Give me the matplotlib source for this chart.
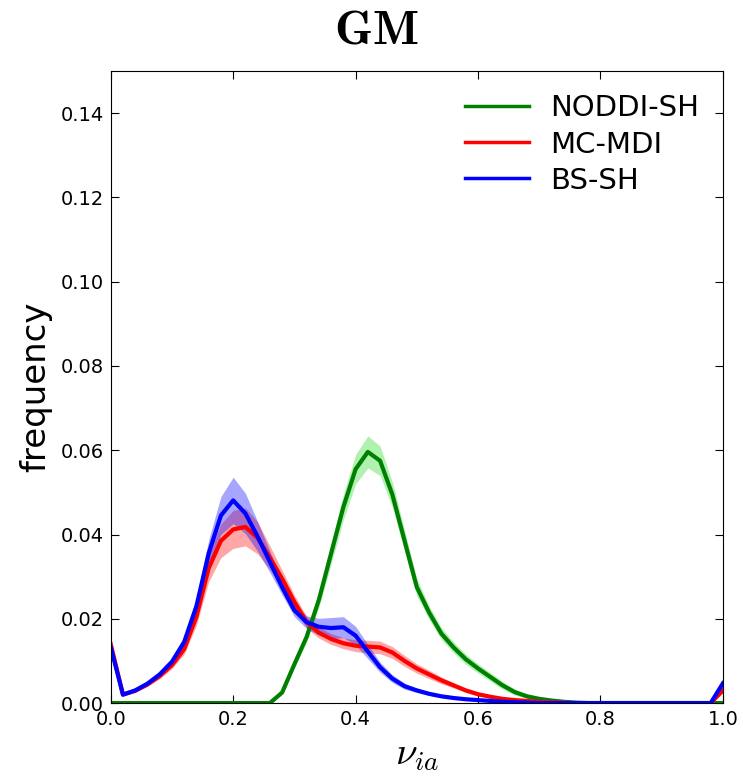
import numpy as np
import matplotlib
matplotlib.use('Agg')
import matplotlib.pyplot as plt

plt.rcParams['font.family'] = 'DejaVu Sans'
plt.rcParams['mathtext.fontset'] = 'cm'

# bin centres of the histogram
nu = np.round(np.arange(0, 1.0001, 0.02), 2)

# NODDI-SH (mean, std)
noddi_mean = [0, 0, 0, 0, 0, 0, 0, 0, 0, 0,
              0, 0, 0, 0, 0.0025, 0.0092, 0.0157, 0.0245, 0.0355, 0.0465,
              0.0555, 0.0596, 0.0575, 0.0495, 0.0385, 0.0275, 0.0215, 0.0165, 0.0132, 0.0104,
              0.0082, 0.0062, 0.0042, 0.0026, 0.0016, 0.0010, 0.0006, 0.0003, 0.0001, 0,
              0, 0, 0, 0, 0, 0, 0, 0, 0, 0, 0]
noddi_std = [0, 0, 0, 0, 0, 0, 0, 0, 0, 0,
             0, 0, 0, 0, 0.0003, 0.0008, 0.0012, 0.0018, 0.0025, 0.0030,
             0.0035, 0.0038, 0.0035, 0.0030, 0.0025, 0.0020, 0.0016, 0.0014, 0.0013, 0.0012,
             0.0011, 0.0010, 0.0009, 0.0007, 0.0005, 0.0004, 0.0003, 0.0002, 0.0001, 0,
             0, 0, 0, 0, 0, 0, 0, 0, 0, 0, 0]

# MC-MDI (mean, std)
mcmdi_mean = [0.0140, 0.0020, 0.0029, 0.0044, 0.0064, 0.0090, 0.0128, 0.0205, 0.0320, 0.0385,
              0.0412, 0.0418, 0.0392, 0.0345, 0.0295, 0.0240, 0.0192, 0.0167, 0.0152, 0.0142,
              0.0136, 0.0134, 0.0132, 0.0120, 0.0100, 0.0082, 0.0068, 0.0054, 0.0042, 0.0030,
              0.0021, 0.0015, 0.0010, 0.0007, 0.0005, 0.0003, 0.0002, 0.0001, 0, 0,
              0, 0, 0, 0, 0, 0, 0, 0, 0, 0, 0.0030]
mcmdi_std = [0.0015, 0.0002, 0.0003, 0.0004, 0.0006, 0.0008, 0.0012, 0.0020, 0.0032, 0.0040,
             0.0045, 0.0045, 0.0038, 0.0028, 0.0020, 0.0016, 0.0014, 0.0013, 0.0013, 0.0013,
             0.0014, 0.0015, 0.0015, 0.0014, 0.0013, 0.0011, 0.0010, 0.0008, 0.0006, 0.0005,
             0.0004, 0.0003, 0.0002, 0.0001, 0.0001, 0, 0, 0, 0, 0,
             0, 0, 0, 0, 0, 0, 0, 0, 0, 0, 0.0005]

# BS-SH (mean, std)
bssh_mean = [0.0133, 0.0020, 0.0030, 0.0046, 0.0068, 0.0098, 0.0145, 0.0230, 0.0355, 0.0445,
             0.0481, 0.0450, 0.0395, 0.0335, 0.0275, 0.0220, 0.0192, 0.0181, 0.0178, 0.0180,
             0.0160, 0.0122, 0.0085, 0.0058, 0.0040, 0.0030, 0.0022, 0.0016, 0.0012, 0.0009,
             0.0007, 0.0005, 0.0003, 0.0002, 0.0001, 0, 0, 0, 0, 0,
             0, 0, 0, 0, 0, 0, 0, 0, 0, 0, 0.0047]
bssh_std = [0.0003, 0.0002, 0.0003, 0.0004, 0.0006, 0.0008, 0.0012, 0.0020, 0.0032, 0.0045,
            0.0055, 0.0048, 0.0035, 0.0025, 0.0018, 0.0015, 0.0015, 0.0020, 0.0025, 0.0025,
            0.0022, 0.0017, 0.0012, 0.0009, 0.0007, 0.0005, 0.0004, 0.0003, 0.0002, 0.0002,
            0.0001, 0.0001, 0, 0, 0, 0, 0, 0, 0, 0,
            0, 0, 0, 0, 0, 0, 0, 0, 0, 0, 0.0003]

series = [
    ('NODDI-SH', noddi_mean, noddi_std, (0, 0.5, 0), (0.1, 0.85, 0.1)),
    ('MC-MDI', mcmdi_mean, mcmdi_std, 'r', 'r'),
    ('BS-SH', bssh_mean, bssh_std, 'b', 'b'),
]

fig = plt.figure(figsize=(7.43, 7.76), dpi=100)
ax = fig.add_axes([0.149, 0.094, 0.824, 0.8145])

for name, m, s, lc, fc in series:
    m = np.array(m)
    s = np.array(s)
    ax.fill_between(nu, m - s, m + s, color=fc, alpha=0.35, linewidth=0)
    ax.plot(nu, m, color=lc, lw=3, label=name)

ax.set_xlim(0, 1)
ax.set_ylim(0, 0.15)
ax.set_xticks([0, 0.2, 0.4, 0.6, 0.8, 1.0])
ax.set_yticks(np.arange(0, 0.141, 0.02))
ax.set_yticklabels(['%.2f' % v for v in np.arange(0, 0.141, 0.02)])
ax.tick_params(direction='in', top=True, right=True, length=6, labelsize=14, pad=5)

# title sits over the figure centre, not the axes centre
fig.text(0.507, 1 - 43 / 776, r'$\mathbf{GM}$', fontsize=35, ha='center', va='baseline')
ax.set_xlabel(r'$\nu_{ia}$', fontsize=28, labelpad=4)
ax.set_ylabel('frequency', fontsize=24.5, labelpad=6)

leg = ax.legend(loc='upper right', frameon=False, fontsize=21, handlelength=2.2,
                handletextpad=0.75, labelspacing=0.28, borderaxespad=0.4)
for line in leg.get_lines():
    line.set_linewidth(2.5)

fig.savefig('out.png', dpi=100)
